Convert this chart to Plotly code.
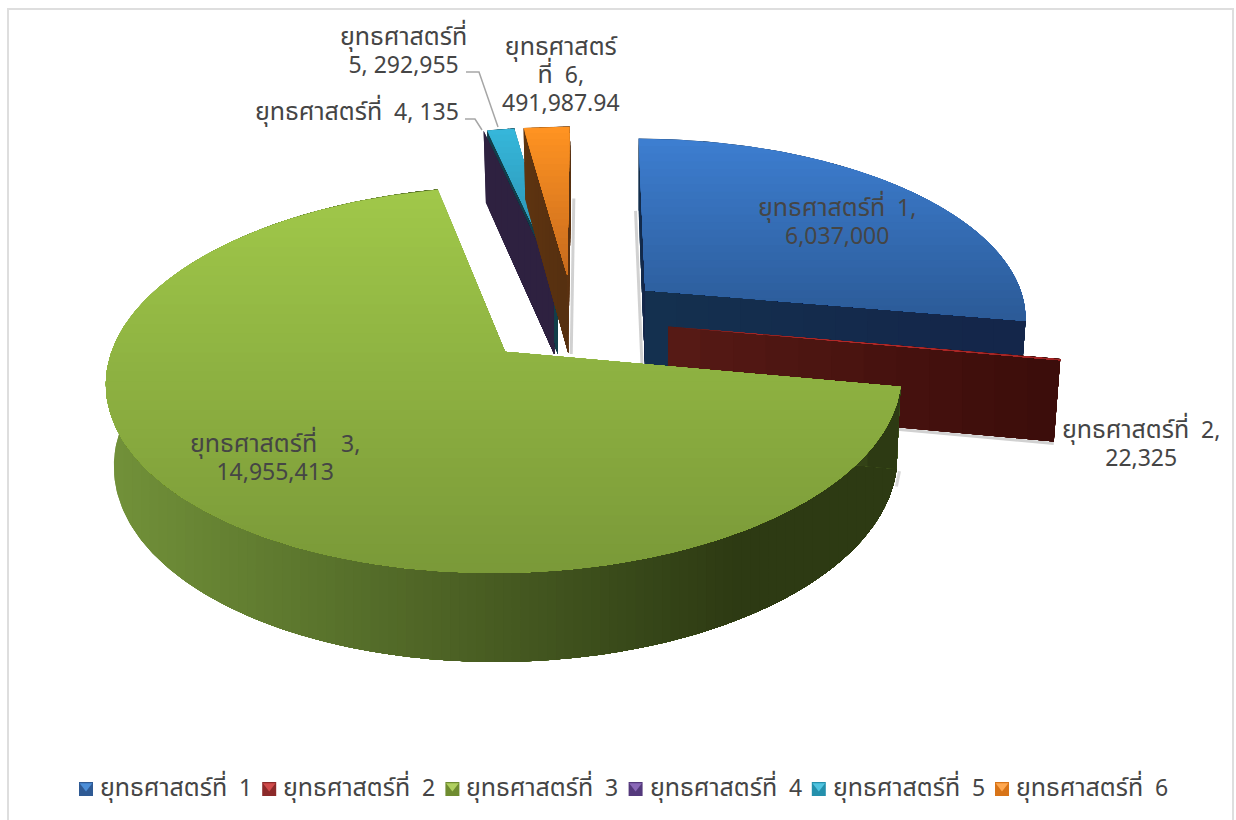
import re
import numpy as np
import plotly.graph_objects as go

# ---------- data ----------
categories = ["ยุทธศาสตร์ที่\u00a0 1", "ยุทธศาสตร์ที่\u00a0 2", "ยุทธศาสตร์ที่\u00a0 3",
              "ยุทธศาสตร์ที่\u00a0 4", "ยุทธศาสตร์ที่\u00a0 5", "ยุทธศาสตร์ที่\u00a0 6"]
values = [6037000, 22325, 14955413, 135, 292955, 491987.94]
label_text = ["ยุทธศาสตร์ที่\u00a0 1,<br>6,037,000", "ยุทธศาสตร์ที่\u00a0 2,<br>22,325",
              "ยุทธศาสตร์ที่\u00a0\u00a0\u00a0 3,<br>14,955,413", "ยุทธศาสตร์ที่\u00a0 4, 135",
              "ยุทธศาสตร์ที่<br>5, 292,955", "ยุทธศาสตร์<br>ที่\u00a0 6,<br>491,987.94"]
label_x = [837, 1141, 275, 357, 403, 561]
label_y = [221, 443, 457, 112, 50, 74]

top_colors = [("#3d7ed0", "#2c5b98"), ("#c03030", "#a02626"), ("#a0c84a", "#7b9a39"),
              ("#6a4a9a", "#5a3f88"), ("#36b6da", "#2a88a8"), ("#ff9322", "#c86c1e")]
wall_colors = [("#14304f", "#14264a"), ("#561a15", "#3c0d0b"),
               ("#72923a", "#2d3a13"), ("#2e2140", "#2e2140"),
               ("#123e4a", "#123e4a"), ("#5e3410", "#563010")]
legend_colors = [("#2f5a94", "#4c8ed8"), ("#8c2a2a", "#d04a4a"), ("#6f8c30", "#b0d060"),
                 ("#54397c", "#8a68b8"), ("#2490ac", "#50c4e0"), ("#d87418", "#ffa850")]

TEXT = "#454545"
FONT = "Tahoma, Noto Sans Thai, DejaVu Sans, Noto Sans, sans-serif"
FONT_BASE, FONT_THAI, FONT_NUM = 21.5, 25, 23

# ---------- view (how the flat pie is tilted on the page) ----------
X0, Y0, CX, A, K, P = 505.0, 353.5, 575.0, 394.0, 0.143, 190.0
ROT = 0.3
EXPL = 0.25
CENTER = np.array([0.173, 0.189])


def styled(s):
    parts = re.split(r"([\u0E00-\u0E7F]+|<br>)", s)
    out = []
    for p in parts:
        if not p:
            continue
        if p == "<br>":
            out.append(p)
        elif re.match(r"[\u0E00-\u0E7F]", p):
            out.append(f'<span style="font-size:{FONT_THAI}px">{p}</span>')
        else:
            out.append(f'<span style="font-size:{FONT_NUM}px">{p}</span>')
    return "".join(out)


def project(X, Y):
    d = 1 + K * Y
    return CX + (X0 - CX + A * X) / d, Y0 - P * Y / d


def drop(xs, ys, Y):
    return 637 + (xs - 637) * 0.985, ys + 81 / (1 + 0.09 * Y)


def clip(poly, axis, val):
    out = []
    n = len(poly)
    for i in range(n):
        a, b = poly[i], poly[(i + 1) % n]
        ina, inb = a[axis] >= val, b[axis] >= val
        if ina:
            out.append(a)
        if ina != inb:
            t = (val - a[axis]) / (b[axis] - a[axis])
            out.append((a[0] + t * (b[0] - a[0]), a[1] + t * (b[1] - a[1])))
    return out


def mix(c1, c2, t):
    a = [int(c1[i:i + 2], 16) for i in (1, 3, 5)]
    b = [int(c2[i:i + 2], 16) for i in (1, 3, 5)]
    return "rgb(%d,%d,%d)" % tuple(a[i] + (b[i] - a[i]) * t for i in range(3))


fig = go.Figure()


def add_poly(poly, color):
    if len(poly) < 3:
        return
    p = list(poly) + [poly[0]]
    fig.add_trace(go.Scatter(x=[q[0] for q in p], y=[q[1] for q in p], mode="lines",
                             fill="toself", fillcolor=color, line=dict(width=0),
                             hoverinfo="skip", showlegend=False))


def gradient(poly, axis, c1, c2, steps, speed=1.0):
    lo = min(q[axis] for q in poly)
    hi = max(q[axis] for q in poly)
    if hi - lo < 1:
        add_poly(poly, c1)
        return
    for i in range(steps):
        t = min(1.0, speed * i / max(steps - 1, 1))
        v = lo + (hi - lo) * i / steps
        add_poly(clip(poly, axis, v) if i else poly, mix(c1, c2, t))


def add_line(pts, color, width):
    fig.add_trace(go.Scatter(x=[q[0] for q in pts], y=[q[1] for q in pts], mode="lines",
                             line=dict(color=color, width=width), hoverinfo="skip",
                             showlegend=False))


total = sum(values)
edges = ROT + np.concatenate([[0], np.cumsum(values)]) / total * 360

order = [0, 1, 4, 3, 5, 2]
for i in order:
    a0, a1 = np.radians(edges[i]), np.radians(edges[i + 1])
    mid = (a0 + a1) / 2
    ox, oy = CENTER + EXPL * np.array([np.sin(mid), np.cos(mid)])
    th = np.linspace(a0, a1, max(3, int((a1 - a0) * 80)))
    RX, RY = ox + np.sin(th), oy + np.cos(th)
    xs, ys = project(RX, RY)
    xb, yb = drop(xs, ys, RY)
    ax, ay = project(ox, oy)
    bx, by = drop(ax, ay, oy)
    rim = list(zip(xs, ys))
    rimb = list(zip(xb, yb))
    # soft shadows along the edges that face away from the light
    if i == 5:
        add_line([(xb[-1] + 3, yb[-1]), (bx + 3, by + 1)], "rgba(0,0,0,0.18)", 3)
    if i == 0:
        add_line([(xb[0] - 3, yb[0]), (bx - 3, by)], "rgba(0,0,0,0.18)", 3)
    if i == 1:
        add_line([(xb[-1], yb[-1] + 2), (bx, by + 2)], "rgba(0,0,0,0.18)", 3)
    if i == 2:
        add_line([(xb[0] + 3, yb[0] + 2), (xb[6] + 3, yb[6] + 2)], "rgba(0,0,0,0.15)", 3)
    # outer wall
    wall = rim + rimb[::-1]
    gradient(wall, 0, wall_colors[i][0], wall_colors[i][1], 90 if i == 2 else 6,
             1.25 if i == 2 else 1.0)
    # cut faces
    end_face = [(ax, ay), rim[0], rimb[0], (bx, by)]
    start_face = [(ax, ay), rim[-1], rimb[-1], (bx, by)]
    gradient(end_face, 0, wall_colors[i][0], wall_colors[i][1], 12)
    gradient(start_face, 0, wall_colors[i][0], wall_colors[i][1], 12)
    # top
    gradient([(ax, ay)] + rim, 1, top_colors[i][0], top_colors[i][1], 40 if i == 2 else 24)

# leader lines
add_line([(465, 119), (475, 119), (482, 130)], "#a6a6a6", 1.5)
add_line([(466, 72), (479, 72), (498, 127)], "#a6a6a6", 1.5)

# legend
for n, name in enumerate(categories):
    lx = 86 + n * 183.2
    fig.add_trace(go.Scatter(x=[lx], y=[789], mode="markers",
                             marker=dict(symbol="square", size=14, color=legend_colors[n][0]),
                             hoverinfo="skip", showlegend=False))
    fig.add_trace(go.Scatter(x=[lx], y=[786], mode="markers",
                             marker=dict(symbol="triangle-down", size=11, color=legend_colors[n][1]),
                             hoverinfo="skip", showlegend=False))
    fig.add_annotation(x=lx + 12, y=788, text=styled(name), showarrow=False, xanchor="left",
                       font=dict(family=FONT, size=FONT_BASE, color=TEXT))

for t, x, y in zip(label_text, label_x, label_y):
    fig.add_annotation(x=x, y=y, text=styled(t), showarrow=False, xanchor="center", yanchor="middle",
                       font=dict(family=FONT, size=FONT_BASE, color=TEXT))

# frame of the chart area
fig.add_shape(type="rect", x0=8, y0=9, x1=1233, y1=840, line=dict(color="#dedede", width=2),
              fillcolor="rgba(0,0,0,0)")

fig.update_layout(width=1236, height=820, margin=dict(l=0, r=0, t=0, b=0),
                  paper_bgcolor="white", plot_bgcolor="white", showlegend=False,
                  xaxis=dict(range=[0, 1236], visible=False),
                  yaxis=dict(range=[820, 0], visible=False))
fig.write_html("out.html", config={"displayModeBar": False},
               post_script="document.body.style.margin='0';document.body.style.overflow='hidden';")
